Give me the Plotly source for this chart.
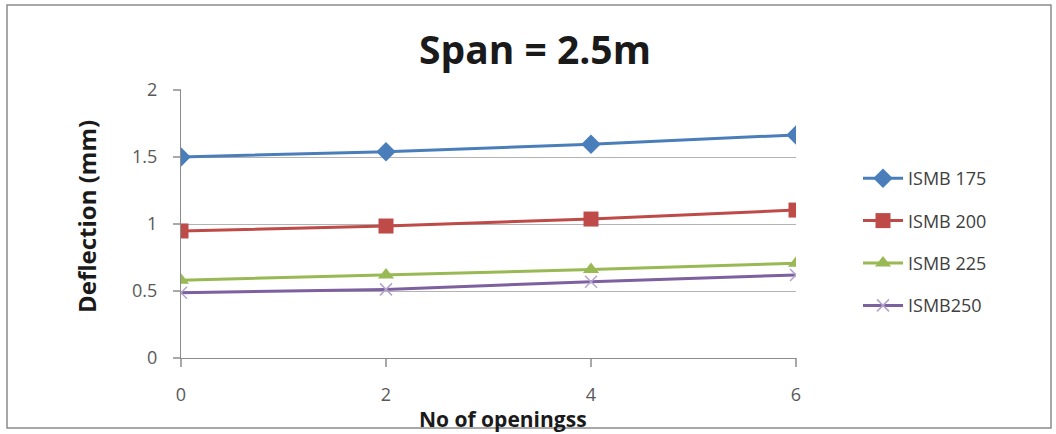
import plotly.graph_objects as go

# Number of openings along the beam web
openings = [0, 2, 4, 6]

# Mid-span deflection (mm) for each section, span = 2.5 m
ismb175 = [1.50, 1.54, 1.595, 1.665]
ismb200 = [0.948, 0.985, 1.037, 1.104]
ismb225 = [0.58, 0.62, 0.66, 0.707]
ismb250 = [0.487, 0.512, 0.569, 0.62]

series_names = ["ISMB 175", "ISMB 200", "ISMB 225", "ISMB250"]
y_ticks = [0, 0.5, 1, 1.5, 2]
y_ticktext = ["0", "0.5", "1", "1.5", "2"]

X_RANGE = [0, 6]
Y_RANGE = [0, 2]

W, H = 1056, 434
ML, MR, MT, MB = 181, 260, 90, 76
FONT = "'Open Sans', sans-serif"
AXIS_GRAY = "#8c8c8c"

fig = go.Figure()

styles = [
    (ismb175, "#4a7ebb", dict(symbol="diamond", size=15)),
    (ismb200, "#be4b48", dict(symbol="square", size=15)),
    (ismb225, "#98b954", dict(symbol="triangle-up", size=14)),
    (ismb250, "#7d60a0", dict(symbol="x-thin", size=12, line=dict(width=1.5, color="#b3a4cc"))),
]

for name, (vals, color, marker) in zip(series_names, styles):
    m = dict(color=color, **marker)
    fig.add_trace(go.Scatter(
        x=openings, y=vals, name=name, mode="lines+markers", legendgroup=name,
        line=dict(color=color, width=3), marker=m,
    ))

# Helpers converting pixel positions into paper coordinates
pw = W - ML - MR
ph = H - MT - MB
def px_x(p):
    return (p - ML) / pw
def px_y(p):
    return (H - MB - p) / ph

# Outer chart frame
fig.add_shape(type="rect", xref="paper", yref="paper",
              x0=px_x(7), x1=px_x(1051), y0=px_y(428), y1=px_y(5),
              line=dict(color=AXIS_GRAY, width=1.5), layer="below")

# Short outside tick marks (labels sit further out, see ticklen below)
X_TICK_LEN, Y_TICK_LEN = 9, 8
for v in openings:
    xp = (v - X_RANGE[0]) / (X_RANGE[1] - X_RANGE[0])
    fig.add_shape(type="line", xref="paper", yref="paper", x0=xp, x1=xp,
                  y0=0, y1=-X_TICK_LEN / ph, line=dict(color=AXIS_GRAY, width=1.5))
for v in y_ticks:
    yp = (v - Y_RANGE[0]) / (Y_RANGE[1] - Y_RANGE[0])
    fig.add_shape(type="line", xref="paper", yref="paper", x0=0, x1=-Y_TICK_LEN / pw,
                  y0=yp, y1=yp, line=dict(color=AXIS_GRAY, width=1.5))

# Axis titles
fig.add_annotation(text="<b>No of openingss</b>", xref="paper", yref="paper",
                   x=px_x(503), y=px_y(419), xanchor="center", yanchor="middle",
                   showarrow=False, font=dict(size=21, color="#1a1a1a", family=FONT))
fig.add_annotation(text="<b>Deflection (mm)</b>", xref="paper", yref="paper",
                   x=px_x(86), y=px_y(217), xanchor="center", yanchor="middle",
                   textangle=-90, showarrow=False,
                   font=dict(size=24, color="#1a1a1a", family=FONT))

fig.update_layout(
    width=W, height=H,
    margin=dict(l=ML, r=MR, t=MT, b=MB),
    paper_bgcolor="white", plot_bgcolor="white",
    font=dict(family=FONT, color="#595959", size=18),
    title=dict(text="<b>Span = 2.5m</b>", xref="container", yref="container",
               x=535 / W, xanchor="center",
               y=1 - 50 / H, yanchor="middle",
               font=dict(size=39, color="#1a1a1a", family=FONT)),
    legend=dict(x=px_x(858), y=px_y(160), xanchor="left", yanchor="top",
                font=dict(size=18, color="#404040", family=FONT),
                tracegroupgap=16, itemwidth=40),
    showlegend=True,
    # Long transparent ticks keep the labels clear of the axes
    xaxis=dict(
        range=X_RANGE, tickvals=openings, ticks="outside", ticklen=20,
        tickcolor="rgba(0,0,0,0)", showline=True, linecolor=AXIS_GRAY, linewidth=1,
        showgrid=False, zeroline=False,
        tickfont=dict(size=18, color="#595959"),
    ),
    yaxis=dict(
        range=Y_RANGE, tickvals=y_ticks, ticktext=y_ticktext,
        ticks="outside", ticklen=19, tickcolor="rgba(0,0,0,0)",
        showline=True, linecolor=AXIS_GRAY, linewidth=1,
        showgrid=True, gridcolor="#b3b3b3", gridwidth=1, zeroline=False,
        tickfont=dict(size=18, color="#595959"),
    ),
)

fig.write_html("out.html")
